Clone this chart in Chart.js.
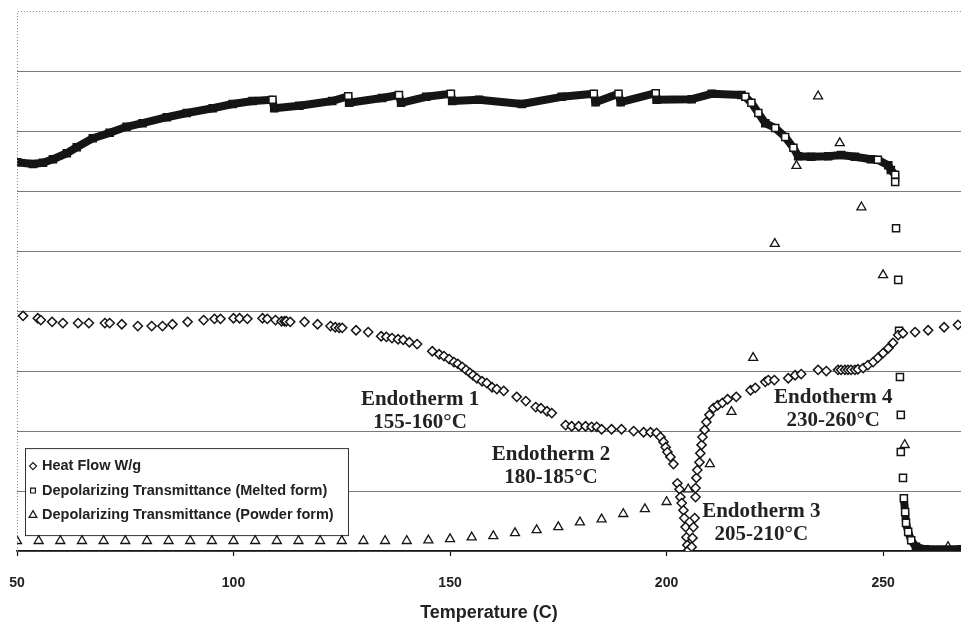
<!DOCTYPE html>
<html>
<head>
<meta charset="utf-8">
<script src="https://cdn.jsdelivr.net/npm/chart.js@4.4.1/dist/chart.umd.min.js"></script>
<style>
  body { margin: 0; background: #fff; }
</style>
</head>
<body>
<canvas id="chart" width="961" height="624"></canvas>
<script>
// [temperature, signal] pairs, signal on a 0-9 arbitrary scale
const heatFlow = [
  [51.4, 3.92], [54.8, 3.88], [55.5, 3.85], [58.1, 3.82], [60.6, 3.8], [64.1, 3.8], [66.6, 3.8],
  [70.3, 3.8], [71.4, 3.8], [74.2, 3.78], [77.9, 3.75], [81.1, 3.75], [83.6, 3.75], [85.9, 3.78],
  [89.4, 3.82], [93.1, 3.85], [95.6, 3.87], [97.0, 3.87], [100.0, 3.88], [101.4, 3.88], [103.2, 3.87],
  [106.7, 3.88], [107.8, 3.87], [109.7, 3.85], [111.1, 3.83], [111.8, 3.83], [112.2, 3.83], [113.1, 3.82],
  [116.4, 3.82], [119.4, 3.78], [122.4, 3.75], [123.5, 3.73], [124.4, 3.72], [125.1, 3.72], [128.3, 3.68],
  [131.1, 3.65], [134.1, 3.58], [135.3, 3.57], [136.6, 3.55], [138.0, 3.53], [139.2, 3.52], [140.6, 3.48],
  [142.4, 3.45], [145.9, 3.33], [147.5, 3.28], [148.6, 3.25], [149.8, 3.2], [150.9, 3.15], [151.8, 3.12],
  [152.8, 3.07], [153.7, 3.02], [154.6, 2.97], [155.3, 2.93], [156.2, 2.88], [157.4, 2.83], [158.5, 2.8],
  [159.7, 2.73], [160.8, 2.7], [162.4, 2.67], [165.4, 2.57], [167.5, 2.5], [169.8, 2.4], [171.0, 2.38],
  [172.4, 2.33], [173.5, 2.3], [176.7, 2.1], [178.1, 2.08], [179.7, 2.08], [181.3, 2.08], [182.7, 2.07],
  [183.9, 2.07], [185.0, 2.03], [187.3, 2.03], [189.6, 2.03], [192.4, 2.0], [194.7, 1.98], [196.3, 1.98],
  [197.7, 1.97], [198.6, 1.9], [199.3, 1.82], [199.8, 1.73], [200.2, 1.65], [200.9, 1.57], [201.6, 1.45],
  [202.5, 1.13], [203.0, 1.03], [203.2, 0.9], [203.5, 0.8], [203.9, 0.68], [204.1, 0.55], [204.4, 0.4],
  [204.6, 0.23], [204.8, 0.1], [205.1, 0.02], [205.8, 0.07], [206.0, 0.22], [206.2, 0.4], [206.5, 0.55],
  [206.7, 0.9], [206.7, 1.05], [206.9, 1.22], [207.1, 1.35], [207.6, 1.48], [207.8, 1.63], [208.1, 1.77],
  [208.3, 1.9], [208.8, 2.02], [209.2, 2.15], [209.9, 2.27], [210.8, 2.38], [211.8, 2.43], [212.9, 2.47],
  [214.1, 2.53], [216.1, 2.57], [219.4, 2.68], [220.5, 2.72], [222.8, 2.82], [223.5, 2.85], [224.9, 2.85],
  [228.1, 2.88], [229.7, 2.93], [231.1, 2.95], [235.0, 3.02], [236.9, 3.0], [239.6, 3.02], [240.3, 3.02],
  [241.2, 3.02], [241.9, 3.02], [242.6, 3.02], [243.5, 3.02], [244.2, 3.03], [245.4, 3.05], [246.5, 3.1],
  [247.7, 3.15], [248.8, 3.22], [250.0, 3.3], [251.2, 3.38], [252.3, 3.47], [253.5, 3.6], [254.6, 3.63],
  [257.4, 3.65], [260.4, 3.68], [264.1, 3.73], [267.3, 3.77]
];

const meltedForm = [
  [50, 6.48], [53.7, 6.45], [56.0, 6.47], [58.3, 6.53], [61.5, 6.63], [63.8, 6.73], [67.5, 6.88],
  [71.4, 6.97], [75.3, 7.07], [79.0, 7.13], [84.6, 7.23], [89.2, 7.3], [95.2, 7.38], [99.8, 7.45],
  [104.4, 7.5], [109.0, 7.52], [109.4, 7.38], [115.2, 7.42], [122.8, 7.5], [126.5, 7.58], [126.7, 7.47],
  [134.3, 7.55], [138.2, 7.6], [138.7, 7.47], [144.5, 7.57], [150.2, 7.62], [150.5, 7.5], [156.7, 7.52],
  [166.6, 7.45], [175.8, 7.57], [183.2, 7.62], [183.6, 7.48], [188.9, 7.62], [189.4, 7.48], [197.5, 7.63],
  [197.7, 7.52], [205.8, 7.53], [210.4, 7.62], [217.3, 7.6], [218.2, 7.57], [219.6, 7.47], [221.2, 7.3],
  [222.8, 7.13], [225.1, 7.05], [227.4, 6.9], [229.3, 6.72], [230.4, 6.58], [233.4, 6.57], [237.3, 6.58],
  [240.3, 6.6], [243.5, 6.57], [247.2, 6.53], [248.8, 6.52], [251.2, 6.43], [251.8, 6.35], [252.8, 6.27],
  [252.8, 6.15], [253.0, 5.38], [253.5, 4.52], [253.7, 3.67], [253.9, 2.9], [254.1, 2.27], [254.1, 1.65],
  [254.6, 1.22], [254.8, 0.88], [255.1, 0.65], [255.3, 0.47], [255.8, 0.32], [256.5, 0.18], [257.6, 0.07],
  [259.7, 0.03], [268, 0.03]
];

const powderTemps = [50, 55, 60, 65, 70, 75, 80, 85, 90, 95, 100, 105, 110, 115, 120, 125, 130, 135, 140,
  145, 150, 155, 160, 165, 170, 175, 180, 185, 190, 195, 200, 205, 210, 215, 220, 225, 230, 235, 240,
  245, 250, 255, 260, 265];
const powderForm = [0.17, 0.17, 0.17, 0.17, 0.17, 0.17, 0.17, 0.17, 0.17, 0.17, 0.17, 0.17, 0.17, 0.17,
  0.17, 0.17, 0.17, 0.17, 0.17, 0.18, 0.2, 0.23, 0.25, 0.3, 0.35, 0.4, 0.48, 0.53, 0.62, 0.7, 0.82,
  1.03, 1.45, 2.32, 3.22, 5.12, 6.42, 7.58, 6.8, 5.73, 4.6, 1.77, 0, 0.07];

const xTicks = [50, 100, 150, 200, 250];

const notes = [
  { name: 'Endotherm 1', range: '155-160°C', t: 143.1, y: 2.34 },
  { name: 'Endotherm 2', range: '180-185°C', t: 173.3, y: 1.41 },
  { name: 'Endotherm 3', range: '205-210°C', t: 221.9, y: 0.475 },
  { name: 'Endotherm 4', range: '230-260°C', t: 238.5, y: 2.37 }
];

const INK = '#151515';
const SANS = '"Liberation Sans", Arial, sans-serif';

const pts = arr => arr.map(p => ({ x: p[0], y: p[1] }));

// a melted-form square is left open where the trace drops to the next reading
function openSquare(i) {
  const next = meltedForm[i + 1];
  return !!next && meltedForm[i][1] - next[1] > 0.085;
}

const extras = {
  id: 'extras',
  // legend box sits under the markers
  beforeDatasetsDraw(c) {
    const { ctx, chartArea: a } = c;
    ctx.save();
    const bx = a.left + 8, by = a.bottom - 103, bw = 323, bh = 87;
    ctx.fillStyle = '#fff';
    ctx.fillRect(bx, by, bw, bh);
    ctx.strokeStyle = '#333';
    ctx.lineWidth = 1;
    ctx.strokeRect(bx + 0.5, by + 0.5, bw, bh);

    const sizes = [3.5, 3.4, 4.5];
    ctx.font = 'bold 14.5px ' + SANS;
    ctx.textAlign = 'left';
    ctx.textBaseline = 'middle';
    c.data.datasets.forEach((ds, i) => {
      const ly = by + 18 + i * 24.5;
      ctx.fillStyle = '#fff';
      ctx.strokeStyle = INK;
      ctx.lineWidth = 1.2;
      Chart.helpers.drawPoint(ctx, { pointStyle: ds.pointStyle, radius: sizes[i], rotation: 0, borderWidth: 1.2 }, bx + 8, ly);
      ctx.fillStyle = '#222';
      ctx.fillText(ds.label, bx + 17, ly);
    });
    ctx.restore();
  },
  afterDraw(c) {
    const { ctx, chartArea: a, scales: { x, y } } = c;
    ctx.save();

    // dotted frame along top and left
    ctx.strokeStyle = '#888';
    ctx.lineWidth = 1;
    ctx.setLineDash([1, 2]);
    ctx.beginPath();
    ctx.moveTo(a.left + 0.5, a.bottom);
    ctx.lineTo(a.left + 0.5, a.top + 0.5);
    ctx.lineTo(a.right, a.top + 0.5);
    ctx.stroke();
    ctx.setLineDash([]);

    // endotherm labels
    ctx.fillStyle = '#222';
    ctx.font = 'bold 21px "Liberation Serif", "Times New Roman", serif';
    ctx.textAlign = 'center';
    ctx.textBaseline = 'middle';
    notes.forEach(n => {
      const px = x.getPixelForValue(n.t);
      const py = y.getPixelForValue(n.y);
      ctx.fillText(n.name, px, py - 11.5);
      ctx.fillText(n.range, px, py + 11.5);
    });
    ctx.restore();
  }
};

new Chart(document.getElementById('chart'), {
  type: 'scatter',
  data: {
    datasets: [
      {
        label: 'Heat Flow W/g',
        data: pts(heatFlow),
        pointStyle: 'rectRot',
        pointRadius: 4.6,
        pointBorderWidth: 1.5,
        pointBackgroundColor: '#fff',
        pointBorderColor: INK
      },
      {
        label: 'Depolarizing Transmittance (Melted form)',
        data: pts(meltedForm),
        showLine: true,
        borderColor: INK,
        borderWidth: 8,
        borderJoinStyle: 'round',
        segment: {
          borderColor: s => (s.p1.y - s.p0.y > 14 ? 'transparent' : INK)
        },
        pointStyle: 'rect',
        pointRadius: 5,
        pointBorderWidth: 1.5,
        pointBorderColor: INK,
        pointBackgroundColor: s => (openSquare(s.dataIndex) ? '#fff' : INK)
      },
      {
        label: 'Depolarizing Transmittance (Powder form)',
        data: powderTemps.map((t, i) => ({ x: t, y: powderForm[i] })),
        pointStyle: 'triangle',
        pointRadius: 5.2,
        pointBorderWidth: 1.3,
        pointBackgroundColor: '#fff',
        pointBorderColor: INK
      }
    ]
  },
  options: {
    responsive: false,
    animation: false,
    events: [],
    layout: { autoPadding: false, padding: { left: 17, top: 11, right: 0, bottom: 0 } },
    plugins: {
      legend: { display: false },
      tooltip: { enabled: false }
    },
    scales: {
      x: {
        type: 'linear',
        min: 50,
        max: 268,
        afterBuildTicks: s => { s.ticks = xTicks.map(v => ({ value: v })); },
        // tick labels may overhang the plot edges
        afterFit: s => { s.paddingLeft = 0; s.paddingRight = 0; },
        ticks: {
          color: '#222',
          padding: 19,
          font: { family: SANS, size: 14, weight: 'bold' }
        },
        grid: { drawOnChartArea: false, tickLength: 5, color: INK, tickWidth: 1.2 },
        border: { color: INK, width: 1.5 },
        title: {
          display: true,
          text: 'Temperature (C)',
          color: '#222',
          font: { family: SANS, size: 18, weight: 'bold' },
          padding: { top: -8.5, bottom: 0 }
        }
      },
      y: {
        min: 0,
        max: 9,
        afterFit: s => { s.width = 0; s.paddingTop = 0; s.paddingBottom = 0; },
        ticks: { display: false, stepSize: 1 },
        grid: {
          color: s => (s.tick.value === 9 ? 'transparent' : '#7a7a7a'),
          lineWidth: 1,
          drawTicks: false
        },
        border: { display: false }
      }
    }
  },
  plugins: [extras]
});
</script>
</body>
</html>
